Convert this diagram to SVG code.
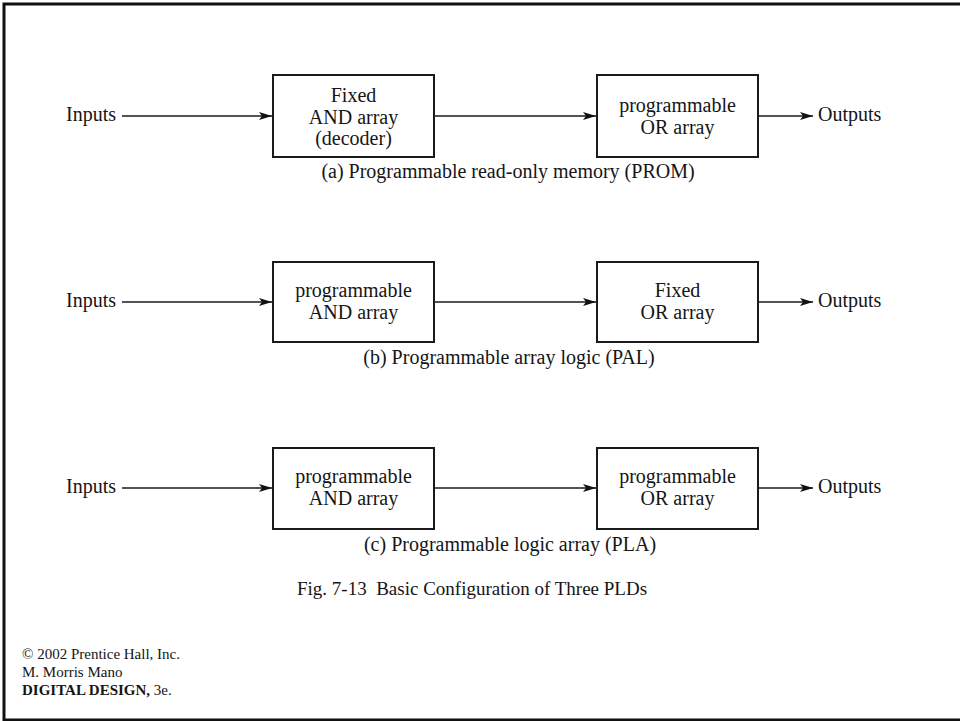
<svg xmlns="http://www.w3.org/2000/svg" width="960" height="721" viewBox="0 0 960 721">
<style>
text{font-family:"Liberation Serif","Times New Roman",serif;fill:#151515;}
.t{font-size:20px;}
.c{font-size:20px;text-anchor:middle;}
.box{fill:#fff;stroke:#1a1a1a;stroke-width:2;}
.ln{stroke:#1a1a1a;stroke-width:1.6;fill:none;}
.f{font-size:15px;}
</style>
<defs>
<marker id="ah" markerUnits="userSpaceOnUse" markerWidth="14" markerHeight="10" refX="13" refY="5" orient="auto">
<path d="M0,1 L13,5 L0,9 L3,5 z" fill="#111"/>
</marker>
</defs>
<rect x="0" y="0" width="960" height="721" fill="#fff"/>
<rect x="4" y="4" width="962" height="716" fill="none" stroke="#111" stroke-width="3"/>

<g id="connectors">
<line class="ln" x1="122" y1="116" x2="272" y2="116" marker-end="url(#ah)"/>
<line class="ln" x1="434" y1="116" x2="596" y2="116" marker-end="url(#ah)"/>
<line class="ln" x1="758" y1="116" x2="813" y2="116" marker-end="url(#ah)"/>
<line class="ln" x1="122" y1="302" x2="272" y2="302" marker-end="url(#ah)"/>
<line class="ln" x1="434" y1="302" x2="596" y2="302" marker-end="url(#ah)"/>
<line class="ln" x1="758" y1="302" x2="813" y2="302" marker-end="url(#ah)"/>
<line class="ln" x1="122" y1="488" x2="272" y2="488" marker-end="url(#ah)"/>
<line class="ln" x1="434" y1="488" x2="596" y2="488" marker-end="url(#ah)"/>
<line class="ln" x1="758" y1="488" x2="813" y2="488" marker-end="url(#ah)"/>
</g>

<g id="inputs-a"><text class="t" x="66" y="121">Inputs</text></g>
<g id="and-a">
<rect class="box" x="273" y="75" width="161" height="82"/>
<text class="c" x="353.5" y="102">Fixed</text>
<text class="c" x="353.5" y="123.5">AND array</text>
<text class="c" x="353.5" y="145">(decoder)</text>
</g>
<g id="or-a">
<rect class="box" x="597" y="75" width="161" height="82"/>
<text class="c" x="677.5" y="112">programmable</text>
<text class="c" x="677.5" y="134">OR array</text>
</g>
<g id="outputs-a"><text class="t" x="818" y="121">Outputs</text></g>
<g id="caption-a"><text class="c" x="508" y="178">(a) Programmable read-only memory (PROM)</text></g>

<g id="inputs-b"><text class="t" x="66" y="307">Inputs</text></g>
<g id="and-b">
<rect class="box" x="273" y="262" width="161" height="80"/>
<text class="c" x="353.5" y="297">programmable</text>
<text class="c" x="353.5" y="319">AND array</text>
</g>
<g id="or-b">
<rect class="box" x="597" y="262" width="161" height="80"/>
<text class="c" x="677.5" y="297">Fixed</text>
<text class="c" x="677.5" y="319">OR array</text>
</g>
<g id="outputs-b"><text class="t" x="818" y="307">Outputs</text></g>
<g id="caption-b"><text class="c" x="509" y="364">(b) Programmable array logic (PAL)</text></g>

<g id="inputs-c"><text class="t" x="66" y="493">Inputs</text></g>
<g id="and-c">
<rect class="box" x="273" y="448" width="161" height="81"/>
<text class="c" x="353.5" y="483">programmable</text>
<text class="c" x="353.5" y="505">AND array</text>
</g>
<g id="or-c">
<rect class="box" x="597" y="448" width="161" height="81"/>
<text class="c" x="677.5" y="483">programmable</text>
<text class="c" x="677.5" y="505">OR array</text>
</g>
<g id="outputs-c"><text class="t" x="818" y="493">Outputs</text></g>
<g id="caption-c"><text class="c" x="510" y="551">(c) Programmable logic array (PLA)</text></g>

<g id="figure-caption"><text x="297" y="595" style="font-size:19px">Fig. 7-13&#160; Basic Configuration of Three PLDs</text></g>

<g id="footer">
<text class="f" x="22" y="659">© 2002 Prentice Hall, Inc.</text>
<text class="f" x="22" y="677">M. Morris Mano</text>
<text class="f" x="22" y="695"><tspan font-weight="bold">DIGITAL DESIGN,</tspan> 3e.</text>
</g>
</svg>
